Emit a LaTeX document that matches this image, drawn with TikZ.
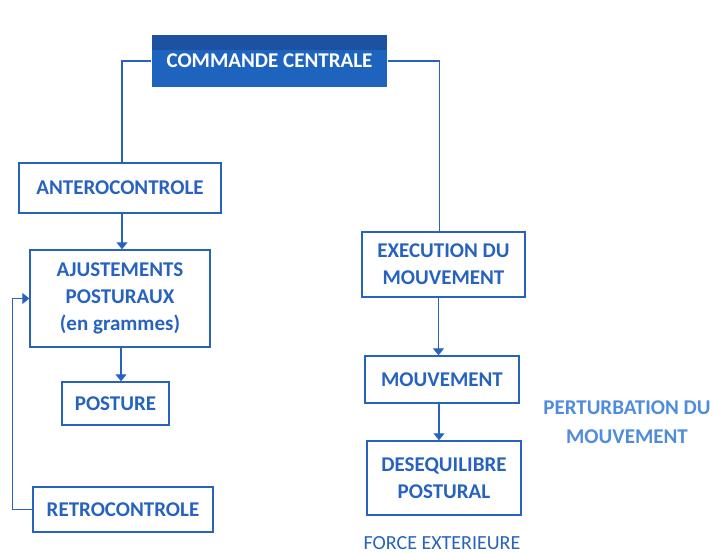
\documentclass[tikz,border=0pt]{standalone}
\usepackage{fontspec}
\setmainfont{Carlito}
\usetikzlibrary{arrows.meta,positioning}
\definecolor{bl}{RGB}{38,98,190}
\definecolor{blfill}{RGB}{30,100,190}
\definecolor{bltop}{RGB}{28,82,160}
\definecolor{bllight}{RGB}{80,140,220}
\begin{document}
\begin{tikzpicture}[x=1pt,y=-1pt,
  box/.style={draw=bl,line width=1.4pt,text=bl,font=\fontsize{21}{27}\selectfont\bfseries,align=center,inner sep=0pt},
  conn/.style={draw=bl,line width=1.3pt},
  arr/.style={conn,-{Triangle[width=11pt,length=7pt]}}]
\useasboundingbox (0,0) rectangle (713,553);
\node[box,fill=blfill,draw=none,text=white,minimum width=235pt,minimum height=52pt] (cc) at (269.5,61) {COMMANDE CENTRALE};
\fill[bltop] (152,35) rectangle (387,50);
\node[box,minimum width=202pt,minimum height=50pt] (antero) at (120,188) {ANTEROCONTROLE};
\node[box,minimum width=180pt,minimum height=97pt] (ajust) at (120,298.5) {AJUSTEMENTS\\POSTURAUX\\(en grammes)};
\node[box,minimum width=107pt,minimum height=43pt] (posture) at (115.5,403.5) {POSTURE};
\node[box,minimum width=180pt,minimum height=45pt] (retro) at (123,509.5) {RETROCONTROLE};
\node[box,minimum width=163pt,minimum height=65pt] (exec) at (443.5,264.5) {EXECUTION DU\\MOUVEMENT};
\node[box,minimum width=154pt,minimum height=47pt] (mouv) at (442,379.5) {MOUVEMENT};
\node[box,minimum width=154pt,minimum height=74pt] (deseq) at (444,478) {DESEQUILIBRE\\POSTURAL};
\node[text=bllight,font=\fontsize{21}{29}\selectfont\bfseries,align=center] (pert) at (627,422) {PERTURBATION DU\\MOUVEMENT};
\node[text=bl,font=\fontsize{20}{27}\selectfont,inner sep=0pt,text depth=0pt,anchor=base] (force) at (442,549) {FORCE EXTERIEURE};
\draw[conn] (cc.west) -| ([xshift=2pt]antero.north);
\draw[conn] (cc.east) -| ([xshift=-4pt]exec.north);
\draw[arr] ([xshift=2pt]antero.south) -- ([xshift=2pt]ajust.north);
\draw[arr] ([xshift=1pt]ajust.south) -- ([xshift=1pt]ajust.south |- posture.north);
\draw[arr] ([xshift=-5pt]exec.south) -- ([xshift=-5pt]exec.south |- mouv.north);
\draw[arr] ([xshift=-3pt]mouv.south) -- ([xshift=-3pt]mouv.south |- deseq.north);
\draw[arr] (retro.west) -- ++(-20,0) |- (ajust.west);
\end{tikzpicture}
\end{document}
